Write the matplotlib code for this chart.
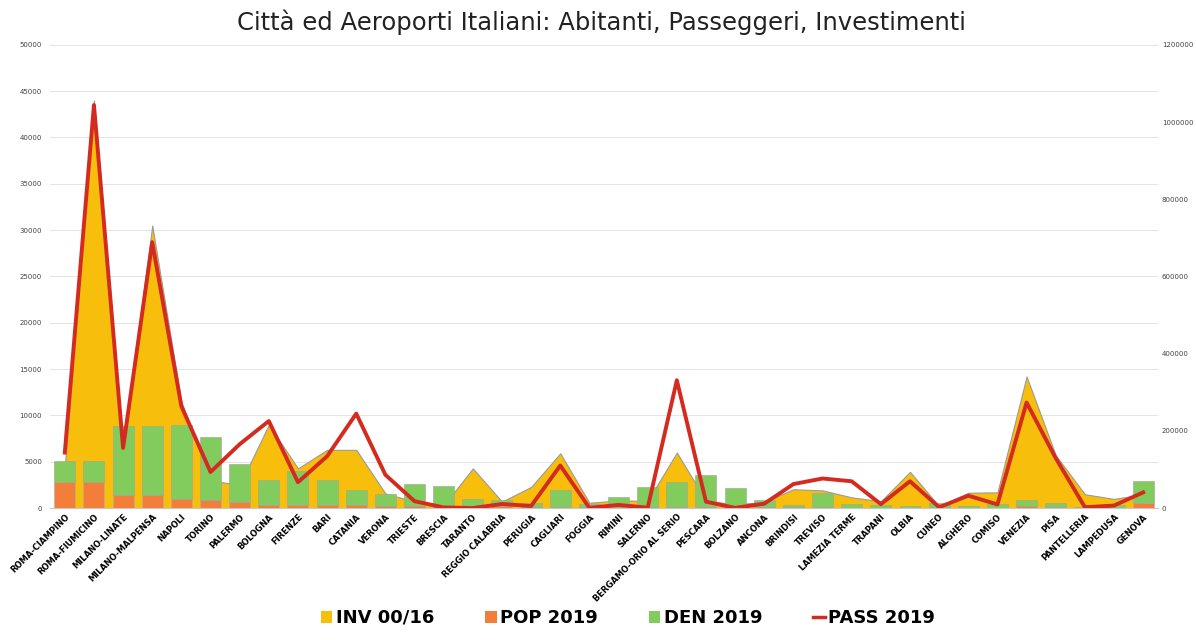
import numpy as np
import matplotlib.pyplot as plt
from matplotlib.patches import Patch
from matplotlib.lines import Line2D
from matplotlib.ticker import FuncFormatter

# data
cities = ["ROMA-CIAMPINO", "ROMA-FIUMICINO", "MILANO-LINATE", "MILANO-MALPENSA", "NAPOLI",
          "TORINO", "PALERMO", "BOLOGNA", "FIRENZE", "BARI", "CATANIA", "VERONA", "TRIESTE",
          "BRESCIA", "TARANTO", "REGGIO CALABRIA", "PERUGIA", "CAGLIARI", "FOGGIA", "RIMINI",
          "SALERNO", "BERGAMO-ORIO AL SERIO", "PESCARA", "BOLZANO", "ANCONA", "BRINDISI",
          "TREVISO", "LAMEZIA TERME", "TRAPANI", "OLBIA", "CUNEO", "ALGHERO", "COMISO",
          "VENEZIA", "PISA", "PANTELLERIA", "LAMPEDUSA", "GENOVA"]

# investimenti 2000/16 (asse destro)
inv = [108000, 1056000, 156000, 732000, 276000, 72000, 60000, 216000, 103000, 151000,
       151000, 38000, 17000, 7000, 103000, 17000, 55000, 142000, 14000, 20000,
       19000, 144000, 19000, 10000, 16000, 49000, 46000, 28000, 18000, 94000,
       5000, 40000, 41000, 341000, 137000, 36000, 24000, 36000]

# popolazione 2019 (migliaia)
pop = [2840, 2840, 1400, 1400, 960, 870, 660, 390, 370, 320, 310, 260, 200, 200, 190,
       180, 166, 150, 150, 150, 130, 120, 120, 107, 100, 87, 85, 70, 67, 60, 56, 44, 30,
       260, 90, 8, 6, 580]

# densita 2019 (ab/km2)
den = [2230, 2230, 7500, 7500, 8000, 6800, 4100, 2700, 3600, 2700, 1700, 1300, 2400,
       2200, 800, 650, 370, 1800, 300, 1100, 2200, 2700, 3500, 2050, 800, 260, 1530, 430,
       250, 160, 470, 190, 460, 630, 490, 90, 300, 2400]

# passeggeri 2019 (migliaia)
pax = [6000, 43500, 6500, 28700, 11000, 3900, 6900, 9400, 2800, 5600, 10200, 3600, 750,
       80, 10, 450, 230, 4600, 30, 350, 50, 13800, 700, 30, 480, 2600, 3200, 2900, 430,
       2900, 100, 1350, 400, 11400, 5400, 100, 280, 1700]

c_inv = '#F7BE0C'
c_pop = '#F27E3A'
c_den = '#82CC5E'
c_pax = '#D42A20'

x = np.arange(len(cities))
pos = [0.042, 0.206, 0.926, 0.724]

fig = plt.figure(figsize=(11.96, 6.4), dpi=100)

# background axes only for the gridlines, so they stay behind the area
bg = fig.add_axes(pos)
bg.set_ylim(0, 50000)
bg.set_yticks(np.arange(0, 50001, 5000))
bg.set_xticks([])
bg.tick_params(axis='y', length=0, labelleft=False)
bg.grid(axis='y', color='#e4e4e4', linewidth=0.7)
for s in bg.spines.values():
    s.set_visible(False)

ax = fig.add_axes(pos)
ax2 = ax.twinx()
ax.patch.set_visible(False)
ax2.patch.set_visible(False)

# area on the right axis, kept behind the bars
ax2.fill_between(x, inv, color=c_inv, edgecolor='#9a9a9a', linewidth=0.8, zorder=1)
ax2.set_ylim(0, 1200000)
ax2.set_yticks(np.arange(0, 1200001, 200000))
ax2.yaxis.set_major_formatter(FuncFormatter(lambda v, p: f"{v:.0f}"))
ax2.tick_params(axis='y', labelsize=5, length=0, pad=3, colors='#444444')

ax.set_zorder(ax2.get_zorder() + 1)

ax.bar(x, pop, width=0.72, color=c_pop, edgecolor='#b0b0b0', linewidth=0.4, zorder=3)
ax.bar(x, den, bottom=pop, width=0.72, color=c_den, edgecolor='#a0a0a0', linewidth=0.4, zorder=3)
ax.plot(x, pax, color=c_pax, linewidth=2.8, zorder=4)

ax.set_ylim(0, 50000)
ax.set_yticks(np.arange(0, 50001, 5000))
ax.set_xlim(-0.5, len(cities) - 0.5)
bg.set_xlim(ax.get_xlim())
ax.set_xticks(x)
ax.set_xticklabels(cities, rotation=45, ha='right', rotation_mode='anchor',
                   fontsize=6, fontweight='bold', family=['Liberation Sans Narrow', 'DejaVu Sans'])
ax.tick_params(axis='x', length=0, pad=3)
ax.tick_params(axis='y', labelsize=5, length=0, pad=6, colors='#444444')

for a in (ax, ax2):
    for s in ('top', 'left', 'right'):
        a.spines[s].set_visible(False)
    a.spines['bottom'].set_color('#c8c8c8')

fig.text(0.503, 0.965, "Città ed Aeroporti Italiani: Abitanti, Passeggeri, Investimenti",
         ha='center', va='center', fontsize=17.5, color='#222222')

handles = [Patch(facecolor=c_inv, edgecolor='none'),
           Patch(facecolor=c_pop, edgecolor='none'),
           Patch(facecolor=c_den, edgecolor='none'),
           Line2D([0], [0], color=c_pax, linewidth=2.5)]
fig.legend(handles, ["INV 00/16", "POP 2019", "DEN 2019", "PASS 2019"],
           loc='lower center', bbox_to_anchor=(0.525, -0.005), ncol=4, frameon=False,
           handlelength=0.65, handleheight=0.65, handletextpad=0.2, columnspacing=2.8,
           prop={'size': 13, 'weight': 'bold', 'family': ['Liberation Sans Narrow', 'DejaVu Sans']})

fig.savefig('out.png', dpi=100)
